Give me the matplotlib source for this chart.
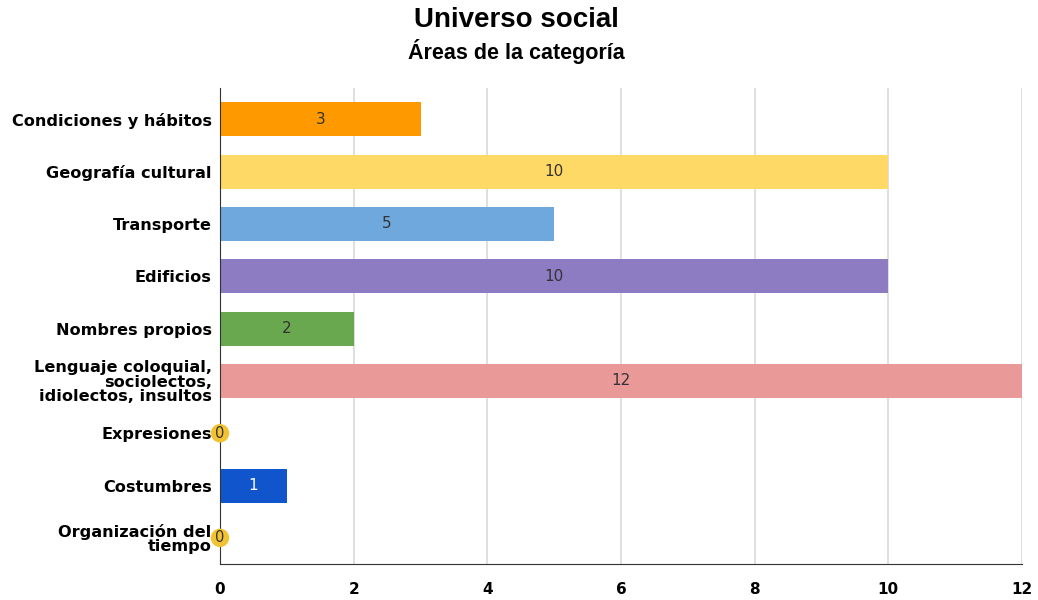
import matplotlib.pyplot as plt

categories = [
    "Condiciones y hábitos",
    "Geografía cultural",
    "Transporte",
    "Edificios",
    "Nombres propios",
    "Lenguaje coloquial,\nsociolectos,\nidiolectos, insultos",
    "Expresiones",
    "Costumbres",
    "Organización del\ntiempo",
]
values = [3, 10, 5, 10, 2, 12, 0, 1, 0]
colors = ["#ff9900", "#ffd966", "#6fa8dc", "#8e7cc3", "#6aa84f",
          "#ea9999", "#f1c232", "#1155cc", "#f1c232"]
xticks = [0, 2, 4, 6, 8, 10, 12]

fig = plt.figure(figsize=(10.38, 6), dpi=100)
ax = fig.add_axes([220 / 1038, 36 / 600, 802 / 1038, 476 / 600])

ypos = list(range(len(categories)))
ax.barh(ypos, values, height=0.65, color=colors, zorder=3)

for y, v, c in zip(ypos, values, colors):
    if v == 0:
        ax.text(0, y, "0", ha="center", va="center", fontsize=10.5,
                color="#333333", zorder=5,
                bbox=dict(boxstyle="circle,pad=0.12", fc="#f1c232", ec="none"))
    else:
        tc = "white" if c == "#1155cc" else "#333333"
        ax.text(v / 2, y, str(v), ha="center", va="center", fontsize=11,
                color=tc, zorder=5)

# a little extra room above the first bar so the grid starts higher
ax.set_ylim(len(categories) - 0.5, -0.6)
ax.set_xlim(0, 12)
ax.set_xticks(xticks)
ax.set_xticklabels([str(t) for t in xticks], fontsize=11, fontweight="bold")
ax.set_yticks(ypos)
ax.set_yticklabels(categories, fontsize=11.6, fontweight="bold",
                   linespacing=0.97)
ax.tick_params(axis="y", length=0, pad=6)
ax.tick_params(axis="x", length=0, pad=13)
ax.xaxis.grid(True, color="#d9d9d9", linewidth=1.2, zorder=0)
for s in ["top", "right"]:
    ax.spines[s].set_visible(False)
ax.spines["left"].set_color("#333333")
ax.spines["bottom"].set_color("#333333")
ax.spines["left"].set_zorder(4)

fig.text(516 / 1038, 1 - 20 / 600, "Universo social", ha="center",
         va="center", fontsize=20, fontweight="bold", family="Liberation Sans")
fig.text(516 / 1038, 1 - 51 / 600, "Áreas de la categoría", ha="center",
         va="center", fontsize=15.5, fontweight="bold", family="Liberation Sans")

fig.savefig("out.png", dpi=100)
